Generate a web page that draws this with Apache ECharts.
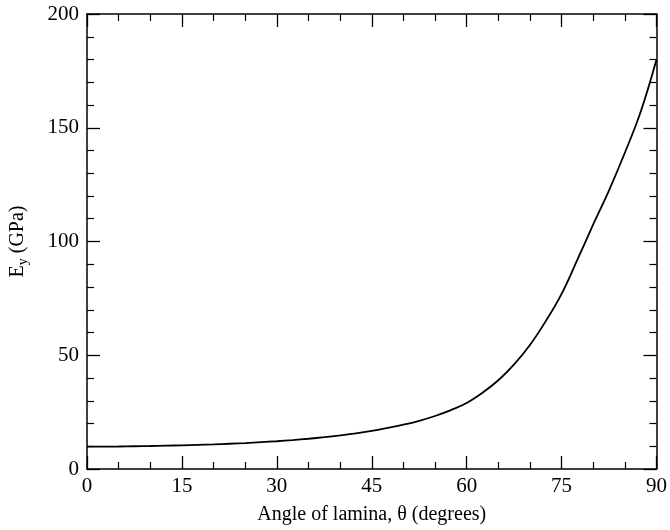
<!DOCTYPE html>
<html>
<head>
<meta charset="utf-8">
<script src="https://cdn.jsdelivr.net/npm/echarts@6/dist/echarts.min.js"></script>
<style>
html,body{margin:0;padding:0;background:#fff;}
#chart{width:670px;height:530px;}
</style>
</head>
<body>
<div id="chart"></div>
<script>
// Data
var theta = [0, 2.5, 5, 7.5, 10, 12.5, 15, 17.5, 20, 22.5, 25, 27.5, 30, 32.5, 35, 37.5, 40, 42.5, 45, 47.5,
             50, 52.5, 55, 57.5, 60, 62.5, 65, 67.5, 70, 72.5, 75, 77.5, 80, 82.5, 85, 87.5, 90];
var Ey    = [9.8, 9.85, 9.9, 10.0, 10.1, 10.25, 10.4, 10.6, 10.8, 11.1, 11.4, 11.8, 12.2, 12.7, 13.3, 14.0, 14.8, 15.7, 16.8, 18.1,
             19.5, 21.2, 23.3, 25.9, 29, 33.5, 39, 46, 54.5, 65, 77, 92, 107.5, 122.5, 139, 157, 180];
var xTicks = [0, 15, 30, 45, 60, 75, 90];
var yTicks = [0, 50, 100, 150, 200];

var font = "'Liberation Serif', 'DejaVu Serif', serif";
var seriesData = theta.map(function (t, i) { return [t, Ey[i]]; });

var chart = echarts.init(document.getElementById('chart'));
var axisLine = { show: true, onZero: false, lineStyle: { color: '#000', width: 1.5 } };
var axisTick = { show: true, inside: true, length: 13, lineStyle: { color: '#000', width: 1.3 } };
var minorTick = { show: true, length: 7, lineStyle: { color: '#000', width: 1.2 } };

chart.setOption({
  animation: false,
  backgroundColor: '#fff',
  grid: { left: 86, top: 14, right: 12, bottom: 60, containLabel: false },
  xAxis: [{
    type: 'value', position: 'bottom', min: xTicks[0], max: xTicks[xTicks.length - 1], interval: 15,
    axisLine: axisLine, axisTick: axisTick,
    minorTick: Object.assign({ splitNumber: 3 }, minorTick),
    splitLine: { show: false }, minorSplitLine: { show: false },
    axisLabel: { color: '#000', fontFamily: font, fontSize: 21, margin: 7 },
    name: 'Angle of lamina, \u03b8 (degrees)', nameLocation: 'middle', nameGap: 36,
    nameTextStyle: { color: '#000', fontFamily: font, fontSize: 20 }
  }, {
    type: 'value', position: 'top', min: xTicks[0], max: xTicks[xTicks.length - 1], interval: 15,
    axisLine: axisLine, axisTick: axisTick,
    minorTick: Object.assign({ splitNumber: 3 }, minorTick),
    splitLine: { show: false }, axisLabel: { show: false }
  }],
  yAxis: [{
    type: 'value', position: 'left', min: yTicks[0], max: yTicks[yTicks.length - 1], interval: 50,
    axisLine: axisLine, axisTick: axisTick,
    minorTick: Object.assign({ splitNumber: 5 }, minorTick),
    splitLine: { show: false }, minorSplitLine: { show: false },
    axisLabel: { color: '#000', fontFamily: font, fontSize: 21, margin: 8 },
    name: '{e|E}{s|y}{e| (GPa)}', nameLocation: 'middle', nameGap: 57, nameRotate: 90,
    nameTextStyle: {
      color: '#000', fontFamily: font, fontSize: 20,
      rich: {
        e: { fontFamily: font, fontSize: 20, color: '#000' },
        s: { fontFamily: font, fontSize: 14, color: '#000', verticalAlign: 'bottom', padding: [10, 0, 0, 0] }
      }
    }
  }, {
    type: 'value', position: 'right', min: yTicks[0], max: yTicks[yTicks.length - 1], interval: 50,
    axisLine: axisLine, axisTick: axisTick,
    minorTick: Object.assign({ splitNumber: 5 }, minorTick),
    splitLine: { show: false }, axisLabel: { show: false }
  }],
  series: [{
    type: 'line', xAxisIndex: 0, yAxisIndex: 0,
    data: seriesData, smooth: 0.4,
    showSymbol: false, symbol: 'none',
    lineStyle: { color: '#000', width: 1.8 }
  }]
});
</script>
</body>
</html>
